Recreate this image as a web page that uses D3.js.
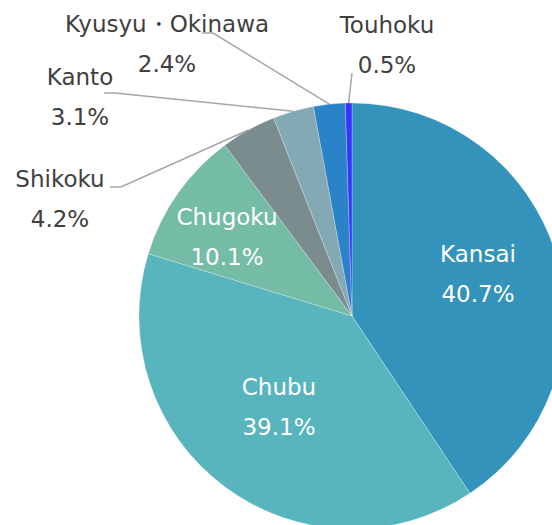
<!DOCTYPE html>
<html>
<head>
    <script src="https://d3js.org/d3.v7.min.js"></script>
    <style>
        body { margin: 0; background: #fff; }
        text { font-family: "DejaVu Sans", Verdana, sans-serif; font-size: 23px; }
        .outer { fill: #404040; }
        .inner { fill: #fff; }
        .leader { fill: none; stroke: #a6a6a6; stroke-width: 1.5px; }
    </style>
</head>
<body>
    <svg></svg>
    <script>
        // datos
        const regions = ["Kansai", "Chubu", "Chugoku", "Shikoku", "Kanto", "Kyusyu・Okinawa", "Touhoku"];
        const shares = [40.7, 39.1, 10.1, 4.2, 3.1, 2.4, 0.5];
        const colors = ["#3493ba", "#58b5be", "#74bca6", "#7a8c8e", "#83aab4", "#2a83c8", "#3535ff"];

        // posiciones de etiquetas (centro x, linea base de la primera linea)
        const labelPos = {
            "Kansai": { x: 478, y: 262, inside: true },
            "Chubu": { x: 279, y: 395, inside: true },
            "Chugoku": { x: 227, y: 225, inside: true },
            "Shikoku": { x: 60, y: 187, lead: [[110, 187], [121, 187]] },
            "Kanto": { x: 80, y: 85, lead: [[104, 93], [115, 93]] },
            "Kyusyu・Okinawa": { x: 167, y: 32, lead: [[202, 33], [213, 33]] },
            "Touhoku": { x: 387, y: 33, lead: [[352, 73]] }
        };

        const width = 552, height = 525;
        const cx = 352, cy = 316, radius = 213;

        const svg = d3.select("svg")
            .attr("width", width)
            .attr("height", height);

        const data = regions.map((r, i) => ({ region: r, value: shares[i], color: colors[i] }));

        const pie = d3.pie().sort(null).value(d => d.value);
        const arc = d3.arc().innerRadius(0).outerRadius(radius);
        const arcs = pie(data);

        const g = svg.append("g").attr("transform", `translate(${cx},${cy})`);

        g.selectAll("path")
            .data(arcs)
            .join("path")
            .attr("d", arc)
            .attr("fill", d => d.data.color)
            .attr("stroke", "#fff")
            .attr("stroke-opacity", 0.5)
            .attr("stroke-width", 0.5);

        // lineas guia
        arcs.forEach(d => {
            const p = labelPos[d.data.region];
            if (!p.lead) return;
            const mid = (d.startAngle + d.endAngle) / 2;
            const end = [cx + radius * Math.sin(mid), cy - radius * Math.cos(mid)];
            const pts = p.lead.concat([end]);
            svg.append("path")
                .attr("class", "leader")
                .attr("d", d3.line()(pts));
        });

        // etiquetas
        arcs.forEach(d => {
            const p = labelPos[d.data.region];
            const t = svg.append("text")
                .attr("class", p.inside ? "inner" : "outer")
                .attr("text-anchor", "middle");
            t.append("tspan").attr("x", p.x).attr("y", p.y).text(d.data.region);
            t.append("tspan").attr("x", p.x).attr("y", p.y + 40).text(d.data.value.toFixed(1) + "%");
        });
    </script>
</body>
</html>
